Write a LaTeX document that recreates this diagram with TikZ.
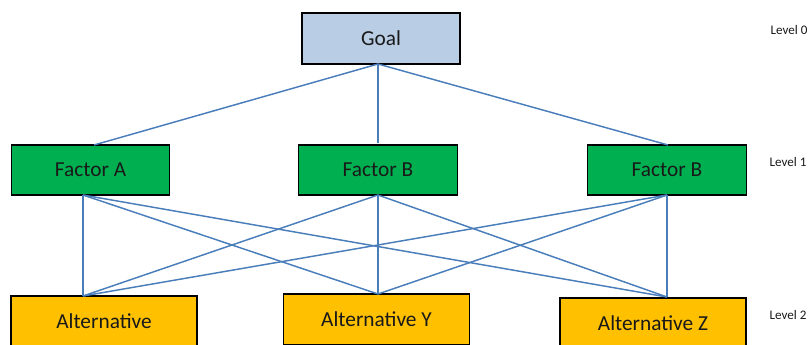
\documentclass[tikz,border=0pt]{standalone}
\usepackage{fontspec}
\setmainfont{Carlito}
\definecolor{linkblue}{HTML}{4A7EBB}
\definecolor{goalfill}{HTML}{B9CDE5}
\definecolor{factorfill}{HTML}{00B050}
\definecolor{altfill}{HTML}{FFC000}
\begin{document}
\begin{tikzpicture}[x=0.75pt,y=-0.75pt,
  box/.style={draw=black,line width=0.8pt,inner sep=0pt,font=\fontsize{16}{19}\selectfont,text=black!90},
  goalbox/.style={box,fill=goalfill,minimum width=118.5pt,minimum height=38.25pt},
  factorbox/.style={box,fill=factorfill,minimum width=119pt,minimum height=37.5pt},
  altbox/.style={box,fill=altfill,minimum width=139.5pt,minimum height=38.25pt},
  levellabel/.style={font=\fontsize{9.8}{12}\selectfont,text=black!90,inner sep=0pt},
  link/.style={draw=linkblue,line width=1.1pt}]
\useasboundingbox (0,0) rectangle (808,344);
\clip (0,0) rectangle (808,344);

% nodes
\node[goalbox] (goal) at (381,38.5) {Goal};
\node[factorbox] (fa) at (90.5,170) {Factor A};
\node[factorbox] (fb) at (378,170) {Factor B};
\node[factorbox] (fc) at (667,170) {Factor B};
\node[altbox] (alt) at (104,321.5) {Alternative};
\node[altbox] (alty) at (376.5,319.5) {Alternative Y};
\node[altbox] (altz) at (653,323.5) {Alternative Z};

\node[levellabel] (l0) at (789,30) {Level 0};
\node[levellabel] (l1) at (788,162) {Level 1};
\node[levellabel] (l2) at (788,315) {Level 2};

% connection points
\coordinate (gS) at (378,64);
\coordinate (faT) at (94,145);
\coordinate (fbT) at (378,143);
\coordinate (fcT) at (668,145);
\coordinate (faB) at (83,195);
\coordinate (fbB) at (378,195);
\coordinate (fcB) at (667,195);
\coordinate (altT) at (83,296);
\coordinate (altyT) at (378,294);
\coordinate (altzT) at (667,297);

% connectors
\begin{scope}[on background layer/.try]
\draw[link] (gS) -- (faT);
\draw[link] (gS) -- (fbT);
\draw[link] (gS) -- (fcT);
\foreach \f in {faB,fbB,fcB}{
  \foreach \a in {altT,altyT,altzT}{
    \draw[link] (\f) -- (\a);
  }
}
\end{scope}
\end{tikzpicture}
\end{document}
